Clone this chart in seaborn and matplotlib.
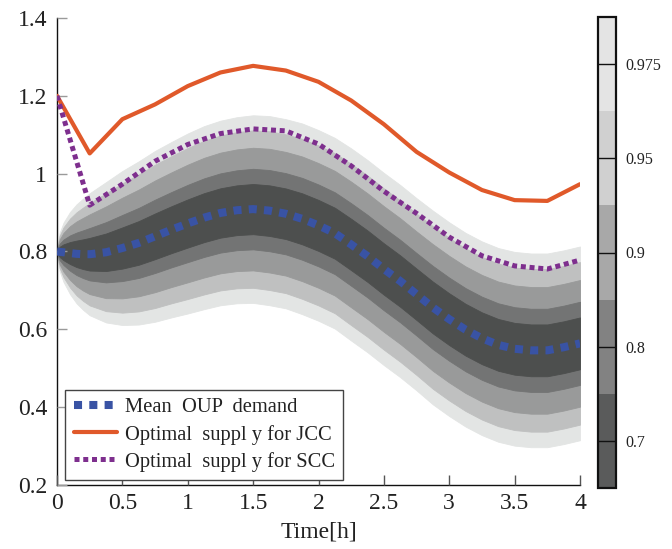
import numpy as np
import matplotlib
matplotlib.use("Agg")
import matplotlib.pyplot as plt
from matplotlib.colors import ListedColormap, BoundaryNorm
from matplotlib.cm import ScalarMappable
from matplotlib.lines import Line2D
from statistics import NormalDist
import seaborn as sns

# ---- data -------------------------------------------------------------
# mean OUP demand and its standard deviation over time [h]
t_demand = [0.0, 0.02, 0.05, 0.1, 0.15, 0.2,
            0.25, 0.375, 0.5, 0.625, 0.75, 0.875, 1.0, 1.125, 1.25, 1.375,
            1.5, 1.625, 1.75, 1.875, 2.0, 2.125, 2.25, 2.375, 2.5, 2.625,
            2.75, 2.875, 3.0, 3.125, 3.25, 3.375, 3.5, 3.625, 3.75, 3.875, 4.0]
mean_demand = [0.800, 0.799, 0.798, 0.796, 0.794, 0.793,
               0.793, 0.798, 0.809, 0.822, 0.839, 0.856, 0.872, 0.887, 0.899,
               0.906, 0.909, 0.905, 0.897, 0.884, 0.867, 0.847, 0.818, 0.788,
               0.755, 0.724, 0.690, 0.656, 0.626, 0.599, 0.577, 0.560, 0.550,
               0.546, 0.546, 0.554, 0.564]
std_demand = [0.0, 0.025, 0.039, 0.054, 0.065, 0.073,
              0.080, 0.092, 0.101, 0.107, 0.112, 0.115, 0.118, 0.120, 0.121,
              0.122, 0.123, 0.124, 0.124, 0.125, 0.125, 0.125, 0.126, 0.126,
              0.126, 0.126, 0.126, 0.127, 0.127, 0.127, 0.127, 0.127, 0.127,
              0.127, 0.127, 0.127, 0.127]

# optimal supply schedules
t_supply = [0.0, 0.25, 0.5, 0.75, 1.0, 1.25, 1.5, 1.75, 2.0,
            2.25, 2.5, 2.75, 3.0, 3.25, 3.5, 3.75, 4.0]
supply_jcc = [1.200, 1.052, 1.140, 1.178, 1.225, 1.260, 1.277, 1.265, 1.236,
              1.188, 1.127, 1.056, 1.003, 0.958, 0.932, 0.930, 0.973]
supply_scc = [1.200, 0.919, 0.973, 1.032, 1.075, 1.103, 1.115, 1.110, 1.076,
              1.020, 0.955, 0.898, 0.837, 0.789, 0.763, 0.755, 0.778]

# probability levels of the quantile bands
levels = [0.7, 0.8, 0.9, 0.95, 0.975]
level_labels = ["0.7", "0.8", "0.9", "0.95", "0.975"]

# ---- style ------------------------------------------------------------
sns.set_style("white")
plt.rcParams["font.family"] = ["Liberation Serif", "DejaVu Serif"]
plt.rcParams["axes.axisbelow"] = False

band_colors = ["#4d4f4e", "#737474", "#999a9a", "#bfc0c0", "#e3e5e4"]
cbar_colors = ["#5a5b5b", "#828282", "#a8a8a8", "#d0d0d0", "#e4e4e4"]
c_mean = "#3953a4"
c_jcc = "#e0592a"
c_scc = "#7e2f8e"
c_text = "#222222"

fig = plt.figure(figsize=(6.72, 5.49), dpi=100)
ax = fig.add_axes([57 / 672, 1 - 485 / 549, 523 / 672, 467 / 549])
ax.set_axisbelow(False)

t = np.asarray(t_demand)
mu = np.asarray(mean_demand)
sd = np.asarray(std_demand)

# quantile bands, outermost first so inner bands sit on top
for lvl, col in reversed(list(zip(levels, band_colors))):
    z = NormalDist().inv_cdf(lvl)
    ax.fill_between(t, mu - z * sd, mu + z * sd, color=col, lw=0.6,
                    edgecolor=col, zorder=1)

sns.lineplot(x=t_supply, y=supply_jcc, ax=ax, color=c_jcc, linewidth=3.0,
             sort=False, zorder=3)
sns.lineplot(x=t_supply, y=supply_scc, ax=ax, color=c_scc, linewidth=3.6,
             sort=False, zorder=3)
ax.lines[-1].set_dashes((1.0, 0.75))
ax.lines[-1].set_dash_capstyle("butt")
sns.lineplot(x=t_demand, y=mean_demand, ax=ax, color=c_mean, linewidth=5.8,
             sort=False, zorder=4)
ax.lines[-1].set_dashes((1.0, 0.9))
ax.lines[-1].set_dash_capstyle("butt")

ax.set_xlim(0, 4)
ax.set_ylim(0.2, 1.4)
ax.set_xticks([0, 0.5, 1, 1.5, 2, 2.5, 3, 3.5, 4])
ax.set_xticklabels(["0", "0.5", "1", "1.5", "2", "2.5", "3", "3.5", "4"])
ax.set_yticks([0.2, 0.4, 0.6, 0.8, 1.0, 1.2, 1.4])
ax.set_yticklabels(["0.2", "0.4", "0.6", "0.8", "1", "1.2", "1.4"])
ax.tick_params(axis="both", which="major", direction="in", labelsize=17,
               length=7, width=1.0, bottom=True, left=True, top=False,
               right=False)
ax.tick_params(axis="y", colors="#9a9a9a", labelcolor=c_text, pad=7)
ax.tick_params(axis="x", colors="#555555", labelcolor=c_text, pad=6)
ax.set_xlabel("Time[h]", fontsize=17, color=c_text, labelpad=5)
ax.set_ylabel("")
for side in ("top", "right"):
    ax.spines[side].set_visible(False)
for side in ("left", "bottom"):
    ax.spines[side].set_color("#111111")
    ax.spines[side].set_linewidth(1.0)

handles = [
    Line2D([], [], color=c_mean, lw=5.8, dashes=(1.0, 0.9),
           dash_capstyle="butt"),
    Line2D([], [], color=c_jcc, lw=3.0),
    Line2D([], [], color=c_scc, lw=3.6, dashes=(1.0, 0.75),
           dash_capstyle="butt"),
]
labels = ["Mean  OUP  demand", "Optimal  suppl y for JCC",
          "Optimal  suppl y for SCC"]
leg = ax.legend(handles, labels, loc="lower left",
                bbox_to_anchor=(0.016, 0.011), borderaxespad=0,
                fontsize=14.8, frameon=True, fancybox=False, framealpha=1,
                edgecolor="#444444", handlelength=2.1, handletextpad=0.4,
                labelspacing=0.35, borderpad=0.4)
leg.get_frame().set_linewidth(1.0)
leg.set_zorder(6)
for txt in leg.get_texts():
    txt.set_color(c_text)

# discrete colour bar for the probability levels
cax = fig.add_axes([598 / 672, 1 - 488 / 549, 18 / 672, 471 / 549])
cmap = ListedColormap(cbar_colors)
norm = BoundaryNorm(np.arange(len(levels) + 1), cmap.N)
sm = ScalarMappable(norm=norm, cmap=cmap)
cbar = fig.colorbar(sm, cax=cax, ticks=np.arange(len(levels)) + 0.5)
cbar.minorticks_off()
cbar.ax.set_axisbelow(False)
cbar.ax.set_yticklabels(level_labels)
cbar.ax.tick_params(which="major", direction="in", length=13, width=1.0,
                    color="#111111", right=True, left=False, labelsize=11.5,
                    labelcolor=c_text, pad=7)
cbar.outline.set_linewidth(1.6)
cbar.outline.set_edgecolor("#111111")

fig.savefig("out.png", dpi=100)
